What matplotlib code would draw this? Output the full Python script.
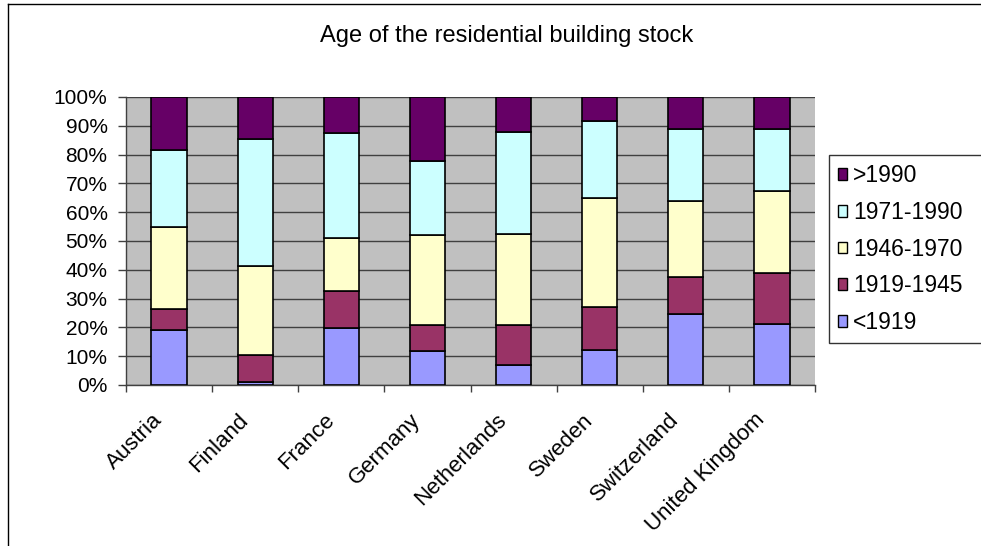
import matplotlib.pyplot as plt
import matplotlib.transforms as mtransforms
import numpy as np
from matplotlib.patches import Patch
from matplotlib.lines import Line2D

plt.rcParams['font.family'] = ['Liberation Sans', 'DejaVu Sans']

countries = ['Austria', 'Finland', 'France', 'Germany', 'Netherlands',
             'Sweden', 'Switzerland', 'United Kingdom']
periods = ['<1919', '1919-1945', '1946-1970', '1971-1990', '>1990']
colors = ['#9999FF', '#993366', '#FFFFCC', '#CCFFFF', '#660066']

# shares in % per period (bottom to top)
pre1919 = [19.0, 1.2, 19.9, 11.7, 6.9, 12.3, 24.7, 21.3]
p1919_1945 = [7.5, 9.1, 12.9, 9.0, 13.9, 14.7, 12.9, 17.7]
p1946_1970 = [28.4, 31.1, 18.1, 31.3, 31.6, 37.9, 26.4, 28.2]
p1971_1990 = [26.7, 44.1, 36.5, 25.8, 35.4, 26.7, 24.8, 21.6]
post1990 = [18.4, 14.5, 12.6, 22.2, 12.2, 8.4, 11.2, 11.2]

series = [pre1919, p1919_1945, p1946_1970, p1971_1990, post1990]

W, H = 981, 546
fig = plt.figure(figsize=(W / 100, H / 100), dpi=100)
ax = fig.add_axes([126 / W, 1 - 385 / H, (815 - 126) / W, (385 - 97) / H])
ax.set_facecolor('#C0C0C0')

x = np.arange(len(countries))
bottom = np.zeros(len(countries))
for vals, col, lab in zip(series, colors, periods):
    ax.bar(x, vals, width=0.41, bottom=bottom, color=col, edgecolor='black',
           linewidth=1.2, label=lab, zorder=3)
    bottom += np.array(vals)

ax.set_xlim(-0.5, len(countries) - 0.5)
ax.set_ylim(0, 100)
ax.set_yticks(np.arange(0, 101, 10))
ax.set_yticklabels([f'{v}%' for v in range(0, 101, 10)], fontsize=15)
ax.yaxis.grid(True, color='#404040', linewidth=1, zorder=1)
ax.tick_params(axis='y', length=5.8, width=1, color='#404040', pad=7.5)

# category labels, rotated, ending just left of the bar centre
ax.set_xticks(x)
ax.set_xticklabels(countries, fontsize=16, rotation=45, ha='right',
                   va='center', rotation_mode='anchor')
ax.tick_params(axis='x', which='major', length=0, pad=23)
shift = mtransforms.ScaledTranslation(-0.10, 0, fig.dpi_scale_trans)
for lbl in ax.get_xticklabels():
    lbl.set_transform(lbl.get_transform() + shift)
ax.set_xticks(np.arange(-0.5, len(countries), 1), minor=True)
ax.tick_params(axis='x', which='minor', length=5, width=1, color='#404040')

for s in ['top', 'right']:
    ax.spines[s].set_visible(False)
for s in ['left', 'bottom']:
    ax.spines[s].set_color('#404040')
    ax.spines[s].set_linewidth(1)

fig.text(507 / W, 1 - 36 / H, 'Age of the residential building stock',
         fontsize=17, ha='center', va='center')

handles = [Patch(facecolor=c, edgecolor='black', linewidth=1) for c in colors]
leg = fig.legend(handles[::-1], periods[::-1], loc='upper left',
                 bbox_to_anchor=(829 / W, 1 - 341 / H, 175 / W, 186 / H),
                 mode='expand', fontsize=16.5,
                 frameon=True, fancybox=False, edgecolor='black',
                 handlelength=0.4, handleheight=0.4, handletextpad=0.25,
                 labelspacing=0.6, borderpad=0.4, borderaxespad=0)
leg.get_frame().set_linewidth(1)

# outer chart border
fig.add_artist(Line2D([8 / W, 1], [1 - 4 / H, 1 - 4 / H], color='black', lw=1))
fig.add_artist(Line2D([8 / W, 8 / W], [0, 1 - 4 / H], color='black', lw=1))

fig.savefig('out.png', dpi=100)
